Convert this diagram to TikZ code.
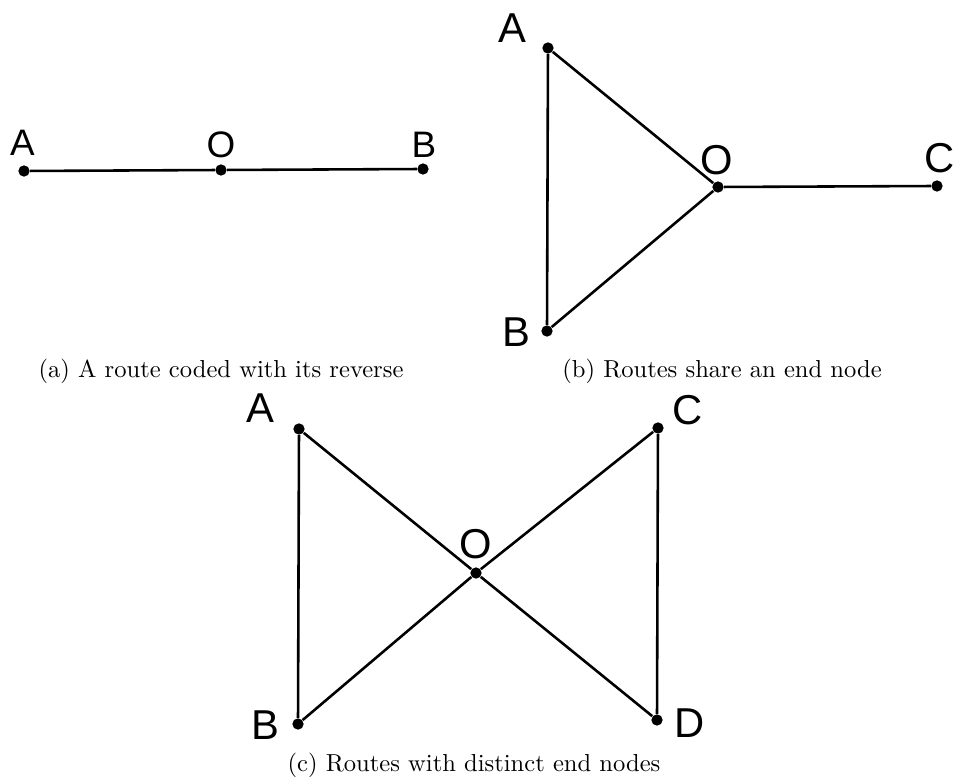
\documentclass[tikz,border=0pt]{standalone}
\usepackage{fontspec}
\newfontfamily\labelfont{Liberation Sans}
\begin{document}
\begin{tikzpicture}[x=0.407pt, y=-0.407pt,
  vertex/.style={circle, fill=black, inner sep=0pt, minimum size=4.6pt},
  edge/.style={line width=1.05pt},
  biglbl/.style={inner sep=0pt, font=\labelfont\fontsize{17}{17}\selectfont},
  smalllbl/.style={inner sep=0pt, font=\labelfont\fontsize{15}{15}\selectfont},
  caption/.style={inner sep=0pt, anchor=base, font=\normalsize}]
\useasboundingbox (0,0) rectangle (956,782);

% (a) a single route
\node[vertex] (aA) at (24,171) {};
\node[vertex] (aO) at (221,170) {};
\node[vertex] (aB) at (423,169) {};
\draw[edge] (aA) -- (aO) -- (aB);
\node[smalllbl] (aAl) at (22.5,143) {A};
\node[smalllbl] (aOl) at (221,144.5) {O};
\node[smalllbl] (aBl) at (424,144.5) {B};
\node[caption] (capa) at (221,378) {(a) A route coded with its reverse};

% (b) routes sharing an end node
\node[vertex] (bA) at (548,48) {};
\node[vertex] (bB) at (547,331) {};
\node[vertex] (bO) at (718,187) {};
\node[vertex] (bC) at (937,186) {};
\draw[edge] (bA) -- (bB);
\draw[edge] (bA) -- (bO);
\draw[edge] (bB) -- (bO);
\draw[edge] (bO) -- (bC);
\node[biglbl] (bAl) at (512,28) {A};
\node[biglbl] (bBl) at (516,332) {B};
\node[biglbl] (bOl) at (717,160) {O};
\node[biglbl] (bCl) at (940,158) {C};
\node[caption] (capb) at (722,378) {(b) Routes share an end node};

% (c) routes with distinct end nodes
\node[vertex] (cA) at (299,429) {};
\node[vertex] (cB) at (298,724) {};
\node[vertex] (cC) at (658,428) {};
\node[vertex] (cD) at (657,720) {};
\node[vertex] (cO) at (476,573) {};
\draw[edge] (cA) -- (cB);
\draw[edge] (cC) -- (cD);
\draw[edge] (cA) -- (cO) -- (cD);
\draw[edge] (cB) -- (cO) -- (cC);
\node[biglbl] (cAl) at (260,408) {A};
\node[biglbl] (cBl) at (265,725) {B};
\node[biglbl] (cCl) at (688,410) {C};
\node[biglbl] (cDl) at (690,723) {D};
\node[biglbl] (cOl) at (476,544) {O};
\node[caption] (capc) at (474,772) {(c) Routes with distinct end nodes};
\end{tikzpicture}
\end{document}
